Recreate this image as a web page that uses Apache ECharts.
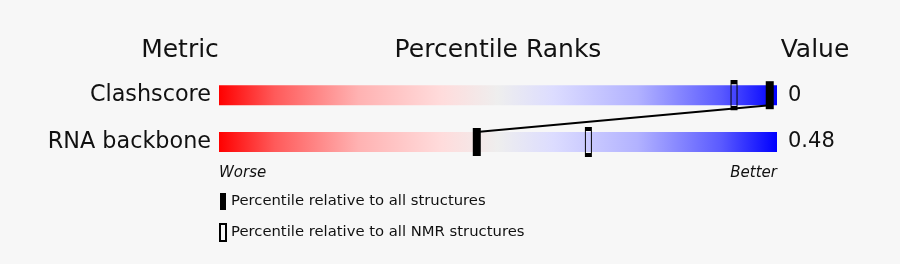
<!DOCTYPE html>
<html><head><meta charset="utf-8">
<script src="https://cdn.jsdelivr.net/npm/echarts@6/dist/echarts.min.js"></script>
<style>html,body{margin:0;padding:0;background:#f7f7f7}#c{width:900px;height:264px}</style>
</head><body><div id="c"></div>
<script>
const metrics = ['Clashscore', 'RNA backbone'];
const valueLabels = ['0', '0.48'];
const pctAll = [98.7, 46.2];
const pctNMR = [92.3, 66.2];
const legendNames = ['Percentile relative to all structures', 'Percentile relative to all NMR structures'];

const FONT = 'DejaVu Sans';
const chart = echarts.init(document.getElementById('c'), null, {renderer: 'canvas'});
const grad = new echarts.graphic.LinearGradient(0, 0, 1, 0, [
  {offset: 0, color: '#ff0000'},
  {offset: 0.1, color: '#ff5a5a'},
  {offset: 0.25, color: '#ffb2b2'},
  {offset: 0.4, color: '#ffdcdc'},
  {offset: 0.5, color: '#eeeeee'},
  {offset: 0.6, color: '#dcdcff'},
  {offset: 0.75, color: '#b2b2ff'},
  {offset: 0.9, color: '#5a5aff'},
  {offset: 1, color: '#0000ff'}
]);
const BAR_H = 20;
chart.setOption({
  backgroundColor: '#f7f7f7',
  animation: false,
  grid: {left: 219, right: 123, top: 71.8, height: 93.6},
  xAxis: {type: 'value', min: 0, max: 100, show: false},
  yAxis: [
    {type: 'category', data: metrics, inverse: true, axisLine: {show: false}, axisTick: {show: false},
     axisLabel: {fontFamily: FONT, fontSize: 22.3, color: '#111', margin: 8, padding: [3, 0, 0, 0]}},
    {type: 'category', data: valueLabels, inverse: true, position: 'right', axisLine: {show: false}, axisTick: {show: false},
     axisLabel: {fontFamily: FONT, fontSize: 21, color: '#111', margin: 11, padding: [3, 0, 0, 0]}}
  ],
  legend: {
    orient: 'vertical', left: 214, top: 188, itemWidth: 6, itemHeight: 17, itemGap: 13,
    textStyle: {fontFamily: FONT, fontSize: 14.8, color: '#111'},
    data: [
      {name: legendNames[0], icon: 'rect', itemStyle: {color: '#000', borderWidth: 0}},
      {name: legendNames[1], icon: 'rect', itemStyle: {color: 'transparent', borderColor: '#000', borderWidth: 2}}
    ],
    selectedMode: false
  },
  graphic: [
    {type: 'text', x: 180, y: 50, style: {text: 'Metric', font: '25px "DejaVu Sans"', fill: '#111', textAlign: 'center', textVerticalAlign: 'middle'}},
    {type: 'text', x: 498, y: 50, style: {text: 'Percentile Ranks', font: '25px "DejaVu Sans"', fill: '#111', textAlign: 'center', textVerticalAlign: 'middle'}},
    {type: 'text', x: 815, y: 50, style: {text: 'Value', font: '25px "DejaVu Sans"', fill: '#111', textAlign: 'center', textVerticalAlign: 'middle'}},
    {type: 'text', x: 219, y: 173.5, style: {text: 'Worse', font: 'italic 15px "DejaVu Sans"', fill: '#111', textAlign: 'left', textVerticalAlign: 'middle'}},
    {type: 'text', x: 777, y: 173.5, style: {text: 'Better', font: 'italic 15px "DejaVu Sans"', fill: '#111', textAlign: 'right', textVerticalAlign: 'middle'}}
  ],
  series: [
    {type: 'bar', data: metrics.map(() => 100), barWidth: BAR_H, itemStyle: {color: grad}, silent: true, z: 1},
    {type: 'custom', z: 3, silent: true, data: [0],
     renderItem: function (params, api) {
       const pts = [];
       for (let i = 0; i < pctAll.length; i++) {
         pts.push(api.coord([pctAll[i], i]));
       }
       const segs = [];
       for (let i = 0; i < pts.length - 1; i++) {
         segs.push({type: 'line', shape: {x1: pts[i][0], y1: pts[i][1] + BAR_H / 2, x2: pts[i + 1][0], y2: pts[i + 1][1] - BAR_H / 2},
                    style: {stroke: '#000', lineWidth: 2}});
       }
       return {type: 'group', children: segs};
     }},
    {type: 'scatter', name: legendNames[1], symbol: 'rect', symbolSize: [6, 26], z: 4,
     itemStyle: {color: 'transparent', borderColor: '#000', borderWidth: 2, opacity: 1},
     data: pctNMR.map((v, i) => [v, i])},
    {type: 'scatter', name: legendNames[0], symbol: 'rect', symbolSize: [8, 28], z: 5,
     itemStyle: {color: '#000', opacity: 1},
     data: pctAll.map((v, i) => [v, i])}
  ]
});
</script></body></html>
